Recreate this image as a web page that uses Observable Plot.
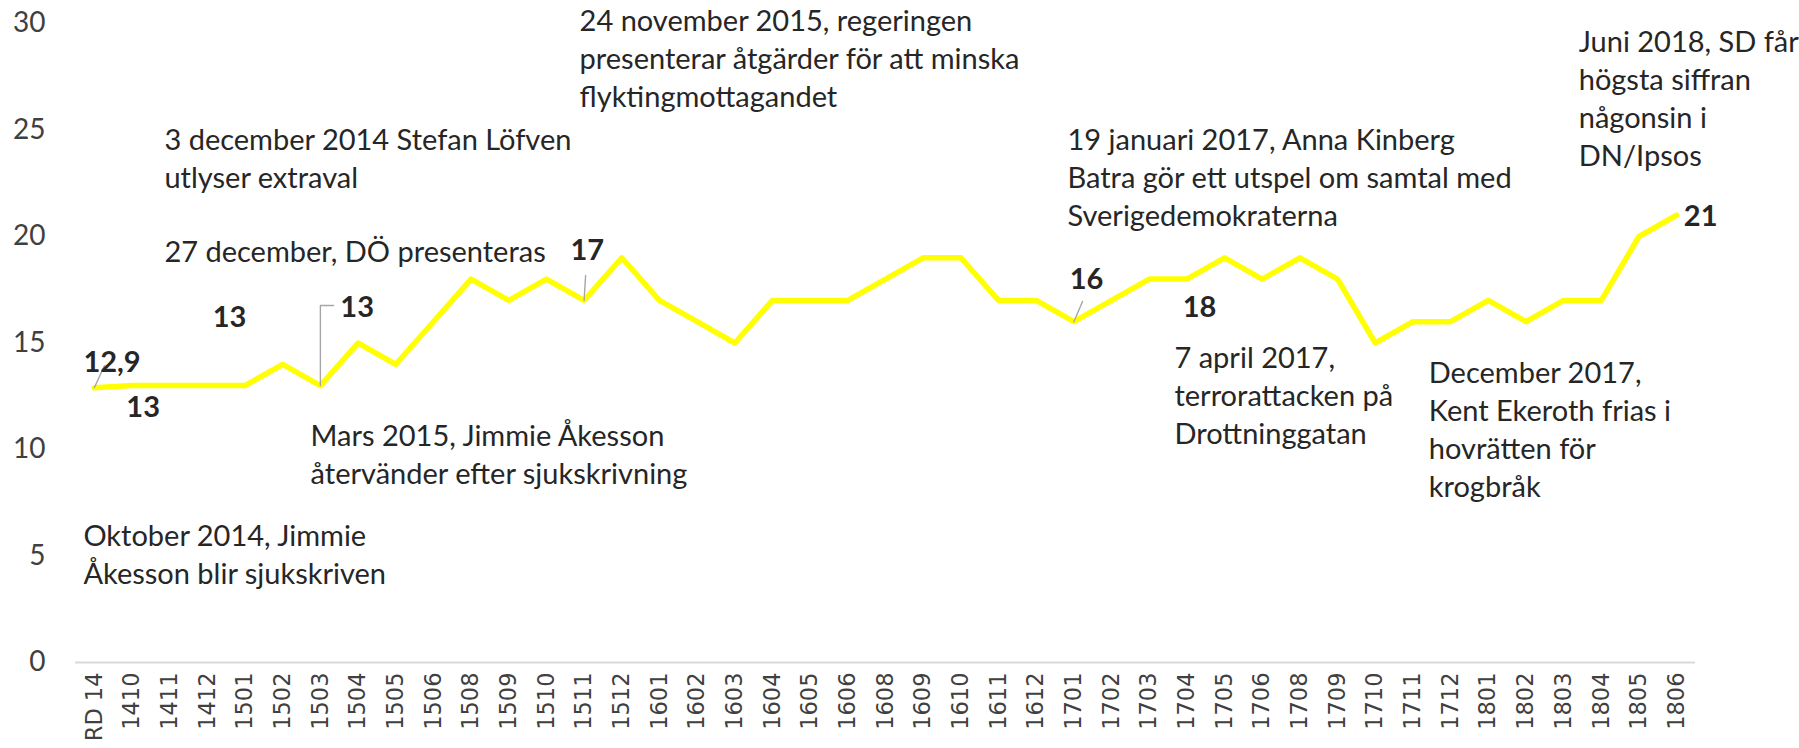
<!DOCTYPE html>
<html>
<head>
<meta charset="utf-8">
<script src="https://cdn.jsdelivr.net/npm/d3@7"></script>
<script src="https://cdn.jsdelivr.net/npm/@observablehq/plot@0.6"></script>
<style>
  html, body { margin: 0; padding: 0; background: #ffffff; }
  #chart svg { display: block; }
</style>
</head>
<body>
<div id="chart"></div>
<script>
// Categories (survey months) and SD support values
const categories = ["RD 14","1410","1411","1412","1501","1502","1503","1504","1505","1506","1508","1509","1510","1511","1512","1601","1602","1603","1604","1605","1606","1608","1609","1610","1611","1612","1701","1702","1703","1704","1705","1706","1708","1709","1710","1711","1712","1801","1802","1803","1804","1805","1806"];
const values = [12.9,13,13,13,13,14,13,15,14,16,18,17,18,17,19,17,16,15,17,17,17,18,19,19,17,17,16,17,18,18,19,18,19,18,15,16,16,17,16,17,17,20,21];
const yTicks = [0,5,10,15,20,25,30];

// Event annotations (anchor in data units: category index, value)
const notes = [
  {text: "24 november 2015, regeringen\npresenterar åtgärder för att minska\nflyktingmottagandet", x: 12.88, y: 30.9},
  {text: "3 december 2014 Stefan Löfven\nutlyser extraval", x: 1.86, y: 25.32},
  {text: "27 december, DÖ presenteras", x: 1.86, y: 20.05},
  {text: "Mars 2015, Jimmie Åkesson\nåtervänder efter sjukskrivning", x: 5.74, y: 11.43},
  {text: "Oktober 2014, Jimmie\nÅkesson blir sjukskriven", x: -0.29, y: 6.75},
  {text: "19 januari 2017, Anna Kinberg\nBatra gör ett utspel om samtal med\nSverigedemokraterna", x: 25.83, y: 25.32},
  {text: "7 april 2017,\nterrorattacken på\nDrottninggatan", x: 28.67, y: 15.1},
  {text: "December 2017,\nKent Ekeroth frias i\nhovrätten för\nkrogbråk", x: 35.42, y: 14.38},
  {text: "Juni 2018, SD får\nhögsta siffran\nnågonsin i\nDN/Ipsos", x: 39.4, y: 29.95}
];

// Value labels: which point they label, and where the label sits
const labelPoints = [0, 1, 3, 6, 13, 26, 29, 42];
const labelX = [-0.29, 0.85, 3.14, 6.53, 12.64, 25.89, 28.89, 42.19];
const labelY = [14.08, 11.97, 16.2, 16.67, 19.34, 17.98, 16.67, 20.94];

// Leader lines from points to labels
const leaders = [
  {id: "a", x: 0, y: 12.9}, {id: "a", x: 0.27, y: 13.94},
  {id: "b", x: 6, y: 13}, {id: "b", x: 6, y: 16.76}, {id: "b", x: 6.35, y: 16.76},
  {id: "c", x: 13, y: 17}, {id: "c", x: 13.04, y: 18.17},
  {id: "d", x: 26, y: 16}, {id: "d", x: 26.23, y: 16.95}
];

const data = categories.map((c, i) => ({i, cat: c, value: values[i]}));
const fmt = v => String(v).replace(".", ",");
const labels = labelPoints.map((p, k) => ({text: fmt(values[p]), x: labelX[k], y: labelY[k]}));

const annFont = "Lato, 'Open Sans', sans-serif";
const annSize = 29;

const chart = Plot.plot({
  width: 1799,
  height: 748,
  marginLeft: 75,
  marginRight: 104,
  marginTop: 23,
  marginBottom: 86,
  style: {background: "#ffffff", color: "#333333"},
  x: {type: "linear", domain: [-0.5, categories.length - 0.5], axis: null},
  y: {domain: [0, 30], axis: null},
  marks: [
    Plot.axisY({ticks: yTicks, tickSize: 0, tickPadding: 30, fontSize: 28, fontFamily: annFont, fill: "#404040"}),
    Plot.axisX({ticks: d3.range(categories.length), tickFormat: i => categories[i], tickRotate: -90, tickSize: 0, tickPadding: 10, fontSize: 22.5, fontFamily: "'DejaVu Sans', sans-serif", fill: "#404040"}),
    Plot.ruleY([0], {stroke: "#d9d9d9", strokeWidth: 2}),
    Plot.line(data, {x: "i", y: "value", stroke: "#ffff00", strokeWidth: 5.5, strokeLinejoin: "round", strokeLinecap: "round"}),
    Plot.line(leaders, {x: "x", y: "y", z: "id", stroke: "#a6a6a6", strokeWidth: 1.4}),
    Plot.text(notes, {x: "x", y: "y", text: "text", textAnchor: "start", lineAnchor: "top", lineHeight: 38 / annSize, fontSize: annSize, fontFamily: annFont, fill: "#262626"}),
    Plot.text(labels, {x: "x", y: "y", text: "text", textAnchor: "start", lineAnchor: "middle", fontSize: annSize, fontWeight: "bold", fontFamily: annFont, fill: "#262626"})
  ]
});
document.getElementById("chart").append(chart);
</script>
</body>
</html>
